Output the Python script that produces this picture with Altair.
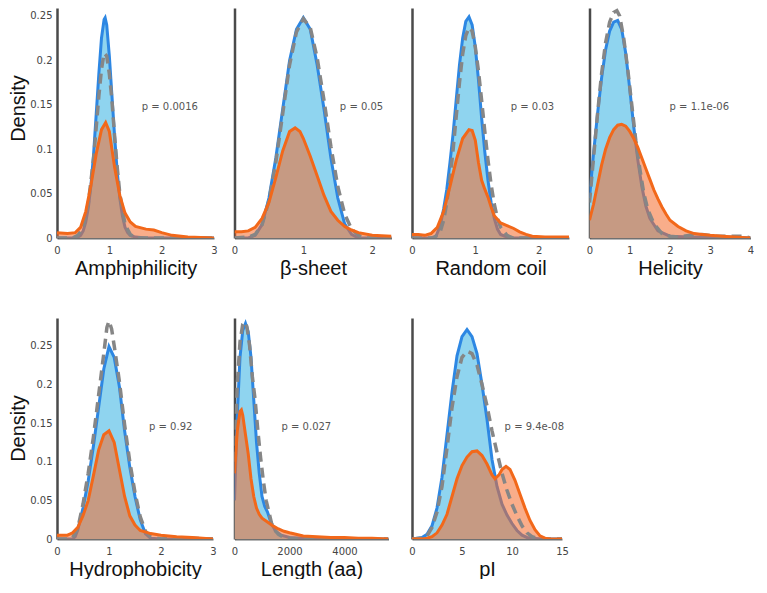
import altair as alt
import pandas as pd

# ---------------- data ----------------
TITLES = ["Amphiphilicity", "β-sheet", "Random coil", "Helicity",
          "Hydrophobicity", "Length (aa)", "pI"]
P_TEXT = ["p = 0.0016", "p = 0.05", "p = 0.03", "p = 1.1e-06",
          "p = 0.92", "p = 0.027", "p = 9.4e-08"]
P_X = [1.62, 1.53, 1.56, 1.99, 1.77, 1710, 9.26]
P_Y = [0.1475, 0.1475, 0.1475, 0.1475, 0.145, 0.145, 0.145]
X_MAX = [3, 2.28, 2.48, 4, 3, 5600, 15]
X_TICKS = [[0, 1, 2, 3], [0, 1, 2], [0, 1, 2], [0, 1, 2, 3, 4],
           [0, 1, 2, 3], [0, 2000, 4000], [0, 5, 10, 15]]
Y_TICKS = [0, 0.05, 0.1, 0.15, 0.2, 0.25]

AMPH_BLUE = [(0, 0), (0.3, 0), (0.4, 0.001), (0.45, 0.003), (0.5, 0.008), (0.55, 0.018),
             (0.6, 0.035), (0.65, 0.06), (0.7, 0.095), (0.75, 0.14), (0.8, 0.185),
             (0.85, 0.225), (0.9, 0.246), (0.92, 0.248), (0.95, 0.24), (1.0, 0.205),
             (1.05, 0.16), (1.1, 0.115), (1.15, 0.075), (1.2, 0.045), (1.25, 0.025),
             (1.3, 0.012), (1.35, 0.006), (1.4, 0.003), (1.5, 0.001), (1.7, 0), (3.0, 0)]
AMPH_GRAY = [(0, 0), (0.3, 0), (0.4, 0.003), (0.5, 0.012), (0.6, 0.04), (0.7, 0.09),
             (0.8, 0.16), (0.85, 0.19), (0.9, 0.208), (0.95, 0.205), (1.0, 0.185),
             (1.05, 0.155), (1.1, 0.115), (1.15, 0.08), (1.2, 0.05), (1.3, 0.015),
             (1.4, 0.004), (1.5, 0), (3.0, 0)]
AMPH_ORANGE = [(0, 0.006), (0.2, 0.005), (0.35, 0.006), (0.45, 0.012), (0.55, 0.03),
               (0.65, 0.06), (0.75, 0.095), (0.85, 0.122), (0.93, 0.13), (1.0, 0.12),
               (1.05, 0.1), (1.1, 0.08), (1.2, 0.048), (1.3, 0.028), (1.4, 0.018),
               (1.5, 0.013), (1.7, 0.01), (1.85, 0.009), (2.0, 0.006), (2.2, 0.003),
               (2.5, 0.001), (3.0, 0)]

BETA_BLUE = [(0, 0), (0.2, 0), (0.3, 0.003), (0.4, 0.015), (0.5, 0.045), (0.6, 0.09),
             (0.7, 0.145), (0.8, 0.2), (0.9, 0.235), (1.0, 0.248), (1.1, 0.235),
             (1.2, 0.195), (1.3, 0.145), (1.4, 0.09), (1.5, 0.045), (1.6, 0.016),
             (1.7, 0.004), (1.8, 0), (2.28, 0)]
BETA_GRAY = [(0, 0), (0.2, 0.001), (0.3, 0.004), (0.4, 0.015), (0.5, 0.042), (0.6, 0.085),
             (0.7, 0.14), (0.8, 0.195), (0.9, 0.232), (1.0, 0.247), (1.1, 0.237),
             (1.2, 0.203), (1.3, 0.155), (1.4, 0.103), (1.5, 0.058), (1.6, 0.027),
             (1.7, 0.01), (1.8, 0.003), (1.9, 0), (2.28, 0)]
BETA_ORANGE = [(0, 0.007), (0.1, 0.007), (0.2, 0.008), (0.3, 0.012), (0.4, 0.022),
               (0.5, 0.04), (0.6, 0.068), (0.7, 0.098), (0.8, 0.12), (0.88, 0.124),
               (0.95, 0.12), (1.0, 0.112), (1.1, 0.092), (1.2, 0.07), (1.3, 0.048),
               (1.4, 0.03), (1.5, 0.02), (1.6, 0.013), (1.7, 0.009), (1.8, 0.006),
               (2.0, 0.003), (2.28, 0.002)]

RC_BLUE = [(0, 0), (0.3, 0), (0.38, 0.002), (0.45, 0.015), (0.5, 0.033), (0.55, 0.055),
           (0.6, 0.085), (0.65, 0.118), (0.7, 0.157), (0.75, 0.195), (0.8, 0.225),
           (0.85, 0.244), (0.9, 0.249), (0.95, 0.24), (1.0, 0.215), (1.05, 0.178),
           (1.1, 0.135), (1.15, 0.097), (1.2, 0.065), (1.25, 0.04), (1.3, 0.022),
           (1.35, 0.01), (1.4, 0.004), (1.5, 0.001), (1.6, 0), (2.48, 0)]
RC_GRAY = [(0, 0), (0.35, 0), (0.45, 0.008), (0.5, 0.02), (0.55, 0.04), (0.6, 0.066),
           (0.65, 0.1), (0.7, 0.138), (0.75, 0.175), (0.8, 0.207), (0.85, 0.228),
           (0.9, 0.237), (0.95, 0.233), (1.0, 0.215), (1.05, 0.188), (1.1, 0.155),
           (1.15, 0.12), (1.2, 0.088), (1.25, 0.06), (1.3, 0.038), (1.35, 0.022),
           (1.4, 0.012), (1.5, 0.003), (1.6, 0), (2.48, 0)]
RC_ORANGE = [(0, 0.004), (0.1, 0.004), (0.2, 0.003), (0.3, 0.005), (0.4, 0.012),
             (0.5, 0.03), (0.6, 0.058), (0.7, 0.088), (0.8, 0.112), (0.9, 0.122),
             (0.95, 0.121), (1.0, 0.11), (1.05, 0.085), (1.1, 0.065), (1.15, 0.055),
             (1.2, 0.046), (1.25, 0.035), (1.3, 0.025), (1.4, 0.017), (1.5, 0.014),
             (1.6, 0.011), (1.7, 0.007), (1.8, 0.004), (1.9, 0.002), (2.1, 0.001),
             (2.48, 0.001)]

HEL_BLUE = [(0, 0.045), (0.1, 0.095), (0.2, 0.14), (0.3, 0.18), (0.4, 0.212), (0.5, 0.233),
            (0.6, 0.243), (0.7, 0.245), (0.8, 0.235), (0.9, 0.208), (1.0, 0.168),
            (1.1, 0.125), (1.2, 0.088), (1.3, 0.058), (1.4, 0.036), (1.5, 0.022),
            (1.7, 0.008), (2.0, 0.002), (2.5, 0.001), (3.5, 0.001), (4.0, 0)]
HEL_GRAY = [(0, 0.04), (0.1, 0.09), (0.2, 0.14), (0.3, 0.185), (0.4, 0.22), (0.5, 0.243),
            (0.6, 0.254), (0.68, 0.256), (0.75, 0.25), (0.85, 0.225), (0.95, 0.19),
            (1.05, 0.15), (1.15, 0.11), (1.25, 0.078), (1.35, 0.05), (1.45, 0.032),
            (1.6, 0.016), (1.8, 0.005), (2.0, 0.002), (2.2, 0.001), (2.5, 0.003),
            (2.8, 0.004), (3.1, 0.002), (3.5, 0.002), (3.8, 0.002), (4.0, 0)]
HEL_ORANGE = [(0, 0.02), (0.1, 0.038), (0.2, 0.06), (0.3, 0.082), (0.4, 0.1), (0.5, 0.113),
              (0.6, 0.122), (0.7, 0.127), (0.8, 0.128), (0.9, 0.126), (1.0, 0.12),
              (1.1, 0.112), (1.2, 0.102), (1.3, 0.09), (1.4, 0.078), (1.5, 0.066),
              (1.6, 0.054), (1.7, 0.044), (1.8, 0.035), (1.9, 0.027), (2.0, 0.02),
              (2.2, 0.013), (2.4, 0.008), (2.6, 0.005), (2.8, 0.004), (3.0, 0.003),
              (3.3, 0.002), (3.6, 0.001), (4.0, 0)]

HYD_BLUE = [(0, 0), (0.3, 0), (0.35, 0.003), (0.4, 0.012), (0.5, 0.04), (0.6, 0.075),
            (0.7, 0.12), (0.8, 0.17), (0.9, 0.22), (1.0, 0.249), (1.1, 0.235),
            (1.2, 0.197), (1.3, 0.14), (1.4, 0.093), (1.5, 0.055), (1.6, 0.025),
            (1.7, 0.007), (1.8, 0.001), (2.0, 0), (3.0, 0)]
HYD_GRAY = [(0, 0), (0.2, 0), (0.3, 0.002), (0.4, 0.014), (0.5, 0.045), (0.6, 0.085),
            (0.7, 0.132), (0.8, 0.186), (0.9, 0.24), (0.96, 0.274), (1.0, 0.282),
            (1.05, 0.272), (1.1, 0.25), (1.2, 0.204), (1.3, 0.148), (1.4, 0.1),
            (1.5, 0.06), (1.6, 0.029), (1.7, 0.01), (1.8, 0.003), (2.0, 0),
            (2.6, 0.001), (3.0, 0)]
HYD_ORANGE = [(0, 0.005), (0.2, 0.005), (0.3, 0.008), (0.4, 0.015), (0.5, 0.03),
              (0.6, 0.05), (0.7, 0.082), (0.8, 0.115), (0.9, 0.135), (1.0, 0.14),
              (1.1, 0.125), (1.2, 0.09), (1.3, 0.055), (1.4, 0.03), (1.5, 0.018),
              (1.6, 0.011), (1.8, 0.007), (2.0, 0.005), (2.3, 0.003), (2.6, 0.002),
              (3.0, 0)]

LEN_BLUE = [(0, 0.05), (100, 0.16), (200, 0.235), (300, 0.27), (400, 0.279), (500, 0.268),
            (600, 0.235), (700, 0.18), (800, 0.125), (900, 0.085), (1000, 0.055),
            (1100, 0.042), (1200, 0.035), (1300, 0.024), (1400, 0.016), (1500, 0.01),
            (1700, 0.005), (2000, 0.002), (2500, 0.001), (3000, 0), (5600, 0)]
LEN_GRAY = [(0, 0.1), (100, 0.2), (200, 0.255), (300, 0.278), (360, 0.281), (450, 0.275),
            (550, 0.25), (650, 0.21), (750, 0.18), (850, 0.14), (950, 0.105),
            (1050, 0.075), (1150, 0.05), (1250, 0.035), (1350, 0.02), (1500, 0.01),
            (1600, 0.006), (1800, 0.002), (2000, 0.001), (2200, 0), (5600, 0)]
LEN_ORANGE = [(0, 0.085), (100, 0.14), (200, 0.165), (250, 0.167), (300, 0.16),
              (400, 0.135), (500, 0.11), (600, 0.078), (700, 0.055), (800, 0.04),
              (900, 0.032), (1000, 0.027), (1200, 0.022), (1400, 0.017), (1600, 0.013),
              (1800, 0.01), (2000, 0.008), (2500, 0.004), (3000, 0.003), (3500, 0.002),
              (4000, 0.002), (4500, 0.001), (5000, 0.001), (5600, 0)]

PI_BLUE = [(0, 0), (1, 0.002), (1.5, 0.006), (2, 0.017), (2.5, 0.04), (3, 0.08),
           (3.5, 0.135), (4, 0.19), (4.5, 0.237), (5, 0.262), (5.5, 0.271), (6, 0.262),
           (6.5, 0.24), (7, 0.2), (7.5, 0.155), (8, 0.103), (8.5, 0.068), (9, 0.045),
           (9.5, 0.031), (10, 0.02), (10.5, 0.011), (11, 0.005), (11.5, 0.002),
           (12, 0.001), (13, 0), (15, 0)]
PI_GRAY = [(0, 0), (1, 0.001), (1.5, 0.004), (2, 0.015), (2.5, 0.035), (3, 0.068),
           (3.5, 0.118), (4, 0.17), (4.5, 0.21), (5, 0.235), (5.5, 0.243), (6, 0.24),
           (6.5, 0.225), (7, 0.2), (7.5, 0.172), (8, 0.14), (8.5, 0.112), (9, 0.085),
           (9.5, 0.063), (10, 0.045), (10.5, 0.03), (11, 0.017), (11.5, 0.008),
           (12, 0.003), (12.5, 0.001), (13, 0), (15, 0)]
PI_ORANGE = [(0, 0), (1, 0), (1.5, 0.001), (2, 0.003), (2.5, 0.008), (3, 0.018),
             (3.5, 0.032), (4, 0.055), (4.5, 0.078), (5, 0.095), (5.5, 0.106), (6, 0.113),
             (6.5, 0.114), (7, 0.108), (7.5, 0.097), (8, 0.083), (8.3, 0.078), (8.7, 0.083),
             (9, 0.09), (9.4, 0.094), (9.8, 0.09), (10.3, 0.076), (10.8, 0.058),
             (11.3, 0.04), (11.8, 0.024), (12.3, 0.012), (12.8, 0.004), (13.3, 0.001),
             (13.8, 0), (15, 0)]

BLUES = [AMPH_BLUE, BETA_BLUE, RC_BLUE, HEL_BLUE, HYD_BLUE, LEN_BLUE, PI_BLUE]
ORANGES = [AMPH_ORANGE, BETA_ORANGE, RC_ORANGE, HEL_ORANGE, HYD_ORANGE, LEN_ORANGE, PI_ORANGE]
GRAYS = [AMPH_GRAY, BETA_GRAY, RC_GRAY, HEL_GRAY, HYD_GRAY, LEN_GRAY, PI_GRAY]

# ---------------- styling ----------------
WIDTHS = [157, 157, 157, 161, 156, 154, 150]
ROW_H = [230, 221]
ROW_YMAX = [0.259, 0.286]
DENSITY_TITLE_Y = [100, 110]

BLUE_FILL = "#8fd4ef"
BLUE_LINE = "#2d87e3"
ORANGE_FILL = "#f46a2a"
ORANGE_LINE = "#f2681a"
GRAY = "#868686"


def to_df(pairs):
    return pd.DataFrame(pairs, columns=["x", "y"])


def panel(i):
    row = 0 if i < 4 else 1
    first = i in (0, 4)
    xscale = alt.Scale(domain=[0, X_MAX[i]], nice=False, zero=False)
    yscale = alt.Scale(domain=[0, ROW_YMAX[row]], nice=False)
    xaxis = alt.Axis(values=X_TICKS[i], title=TITLES[i], format="~r",
                     labelFlush=False, labelOverlap=False)
    if first:
        yaxis = alt.Axis(values=Y_TICKS, format="~r", title="Density",
                         titleY=DENSITY_TITLE_Y[row],
                         labelFlush=False, labelOverlap=False)
    else:
        yaxis = alt.Axis(labels=False, title=None)
    X = alt.X("x:Q", scale=xscale, axis=xaxis)
    Y = alt.Y("y:Q", scale=yscale, axis=yaxis)

    b = alt.Chart(to_df(BLUES[i]))
    o = alt.Chart(to_df(ORANGES[i]))
    g = alt.Chart(to_df(GRAYS[i]))
    t = alt.Chart(pd.DataFrame({"x": [P_X[i]], "y": [P_Y[i]], "t": [P_TEXT[i]]}))

    layers = [
        b.mark_area(color=BLUE_FILL, clip=True).encode(x=X, y=Y),
        b.mark_line(color=BLUE_LINE, strokeWidth=3, clip=True).encode(x=X, y=Y),
        o.mark_area(color=ORANGE_FILL, opacity=0.55, clip=True).encode(x=X, y=Y),
        g.mark_line(color=GRAY, strokeWidth=3.5, strokeDash=[10, 6], clip=True).encode(x=X, y=Y),
        o.mark_line(color=ORANGE_LINE, strokeWidth=3, clip=True).encode(x=X, y=Y),
        t.mark_text(align="left", baseline="middle", font="DejaVu Sans", fontSize=10,
                    color="#555555").encode(x=X, y=Y, text="t:N"),
    ]
    return alt.layer(*layers).properties(width=WIDTHS[i], height=ROW_H[row])


chart = alt.concat(
    *[panel(i) for i in range(7)],
    columns=4,
    spacing={"row": 80, "column": 20.5},
    bounds="flush",
    align="each",
).properties(
    background="white",
    padding=0,
).configure_axis(
    grid=False, ticks=False,
    labelFont="DejaVu Sans", labelFontSize=10, labelColor="#444444",
    titleFont="Liberation Sans", titleFontSize=20, titleFontWeight="normal",
    titleColor="#111111",
    domainColor="#4a4a4a", domainWidth=2.5,
).configure_axisX(
    domainColor="#707070", domainWidth=2, labelPadding=7, titlePadding=3,
).configure_axisY(
    labelPadding=5, titlePadding=1,
).configure_view(stroke=None)

chart.save("out.html", embed_options={"renderer": "svg", "actions": False})
